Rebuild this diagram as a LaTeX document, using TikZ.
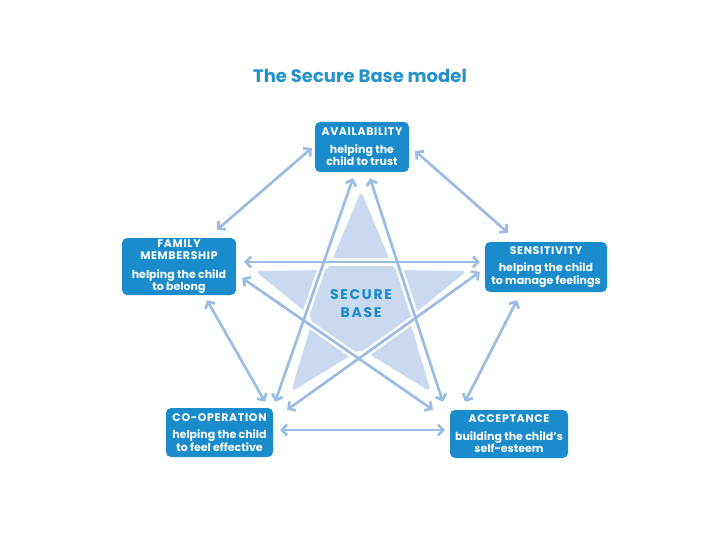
\documentclass[tikz,border=0pt]{standalone}
\usepackage{fontspec}
\setmainfont{Poppins}
\usetikzlibrary{arrows.meta}
\definecolor{boxblue}{HTML}{1A8CCB}
\definecolor{linkblue}{HTML}{9BBDE3}
\definecolor{starblue}{HTML}{C8D9F0}
\definecolor{titleblue}{HTML}{2391CC}
\newcommand{\heading}[1]{{\addfontfeatures{LetterSpace=6}#1}}

\begin{document}
\begin{tikzpicture}[x=1pt,y=-1pt,>={Straight Barb[length=5pt,width=11pt]},
	box/.style={rectangle,rounded corners=5pt,fill=boxblue,text=white,align=center,inner sep=0pt,font=\bfseries\fontsize{11}{12.5}\selectfont},
	halo/.style={draw=white,line width=7.5pt,shorten <=6pt,shorten >=6pt},
	link/.style={<->,draw=linkblue,line width=2.7pt}]
	\useasboundingbox (0,0) rectangle (720,540);
	\node[font=\bfseries\fontsize{18}{20}\selectfont,text=titleblue] (title) at (360,76) {The Secure Base model};
	% star behind the links
	\fill[starblue,rounded corners=5pt] (361,191) -- (394,270) -- (467,271) -- (409,318) -- (431,392)
		-- (361,349) -- (291,392) -- (313,318) -- (255,271) -- (328,270) -- cycle;
	\node[font=\bfseries\fontsize{14}{18}\selectfont,text=boxblue,align=center] (core) at (361,304)
		{\addfontfeatures{LetterSpace=12}SECURE\\\addfontfeatures{LetterSpace=12}BASE};

	\node[box,minimum width=94pt,minimum height=50pt] (avail) at (362,147) {\heading{AVAILABILITY}\\[5pt]helping the\\child to trust};
	\node[box,minimum width=114pt,minimum height=57pt] (family) at (179,266.5) {\heading{FAMILY}\\\heading{MEMBERSHIP}\\[6pt]helping the child\\to belong};
	\node[box,minimum width=122pt,minimum height=50pt] (sens) at (546,267) {\heading{SENSITIVITY}\\[5pt]helping the child\\to manage feelings};
	\node[box,minimum width=107pt,minimum height=49pt] (coop) at (219.5,432.5) {\heading{CO-OPERATION}\\[5pt]helping the child\\to feel effective};
	\node[box,minimum width=118pt,minimum height=48pt] (accept) at (509,434) {\heading{ACCEPTANCE}\\[5pt]building the child's\\self-esteem};

	% white casing first, then the links on top
	\foreach \kind in {halo,link} {
		% outer ring
		\draw[\kind] ([shift={(-3,1)}]avail.west) -- ([shift={(38,-8)}]family.north);
		\draw[\kind] ([shift={(6,4)}]avail.east) -- ([shift={(-38,-9)}]sens.north);
		\draw[\kind] ([shift={(28,5)}]family.south) -- ([shift={(45.5,-6)}]coop.north);
		\draw[\kind] ([shift={(-29,8)}]sens.south) -- ([shift={(-44,-8)}]accept.north);
		\draw[\kind] ([shift={(7,-2.5)}]coop.east) -- ([shift={(-5,-4)}]accept.west);
		% inner star
		\draw[\kind] ([shift={(-9,6)}]avail.south) -- ([shift={(2,-6)}]coop.north east);
		\draw[\kind] ([shift={(8,6)}]avail.south) -- ([shift={(-7,-8)}]accept.north west);
		\draw[\kind] ([shift={(8,-4.5)}]family.east) -- ([shift={(-5,-5)}]sens.west);
		\draw[\kind] ([shift={(6,11.5)}]family.east) -- ([shift={(-17,0)}]accept.north west);
		\draw[\kind] ([shift={(-5,5)}]sens.west) -- ([shift={(14,2)}]coop.north east);
	}
\end{tikzpicture}
\end{document}
